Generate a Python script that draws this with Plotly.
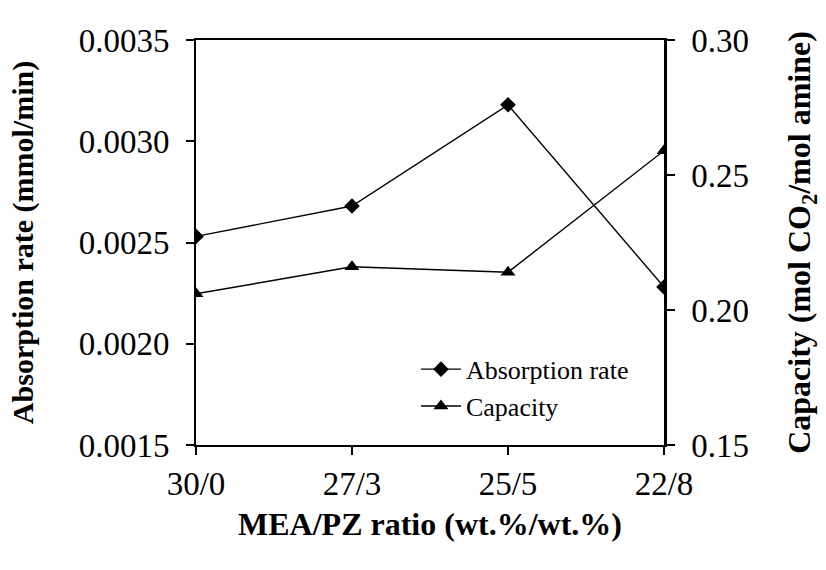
import plotly.graph_objects as go

# MEA/PZ blend ratios (wt.%/wt.%)
ratios = ["30/0", "27/3", "25/5", "22/8"]
# CO2 absorption rate, mmol/min
absorption_rate = [0.00253, 0.00268, 0.00318, 0.00228]
# Loading capacity, mol CO2 / mol amine
capacity = [0.206, 0.216, 0.214, 0.259]

x_pos = list(range(len(ratios)))

FONT = "Liberation Serif, Times New Roman, serif"
TICK_SIZE = 33

fig = go.Figure()
fig.add_trace(go.Scatter(
    x=x_pos, y=absorption_rate, name="Absorption rate",
    mode="lines+markers",
    line=dict(color="black", width=1.4),
    marker=dict(symbol="diamond", size=12, color="black"),
    yaxis="y",
))
fig.add_trace(go.Scatter(
    x=x_pos, y=capacity, name="Capacity",
    mode="lines+markers",
    line=dict(color="black", width=1.4),
    marker=dict(symbol="triangle-up", size=13, color="black"),
    yaxis="y2",
))

fig.update_layout(
    width=826, height=570,
    margin=dict(l=196, r=162, t=40, b=125),
    paper_bgcolor="white", plot_bgcolor="white",
    font=dict(family=FONT, color="black", size=TICK_SIZE),
    showlegend=True,
    legend=dict(
        x=0.47, y=0.245, xanchor="left", yanchor="top",
        bgcolor="rgba(0,0,0,0)", font=dict(size=26, family=FONT),
        tracegroupgap=0, itemwidth=40,
    ),
    xaxis=dict(
        range=[0, 3], tickvals=x_pos, ticktext=ratios,
        showgrid=False, zeroline=False,
        showline=True, linecolor="black", linewidth=2, mirror=True,
        ticks="outside", ticklen=8, tickwidth=1.5, tickcolor="black",
        tickfont=dict(size=TICK_SIZE),
        title=dict(text="<b>MEA/PZ ratio (wt.%/wt.%)</b>", font=dict(size=32), standoff=12),
    ),
    yaxis=dict(
        range=[0.0015, 0.0035], tickvals=[0.0015, 0.0020, 0.0025, 0.0030, 0.0035],
        tickformat=".4f",
        showgrid=False, zeroline=False,
        showline=True, linecolor="black", linewidth=2,
        ticks="outside", ticklen=8, tickwidth=1.5, tickcolor="black",
        ticklabelstandoff=10,
        tickfont=dict(size=TICK_SIZE),
        title=dict(text="<b>Absorption rate (mmol/min)</b>", font=dict(size=30), standoff=36),
    ),
    yaxis2=dict(
        range=[0.15, 0.30], tickvals=[0.15, 0.20, 0.25, 0.30],
        tickformat=".2f",
        overlaying="y", side="right",
        showgrid=False, zeroline=False,
        showline=True, linecolor="black", linewidth=2.5,
        ticks="outside", ticklen=8, tickwidth=1.5, tickcolor="black",
        ticklabelstandoff=10,
        tickfont=dict(size=TICK_SIZE),
        title=dict(text="<b>Capacity (mol CO<sub>2</sub>/mol amine)</b>", font=dict(size=32), standoff=40),
    ),
)

fig.write_html("out.html")
